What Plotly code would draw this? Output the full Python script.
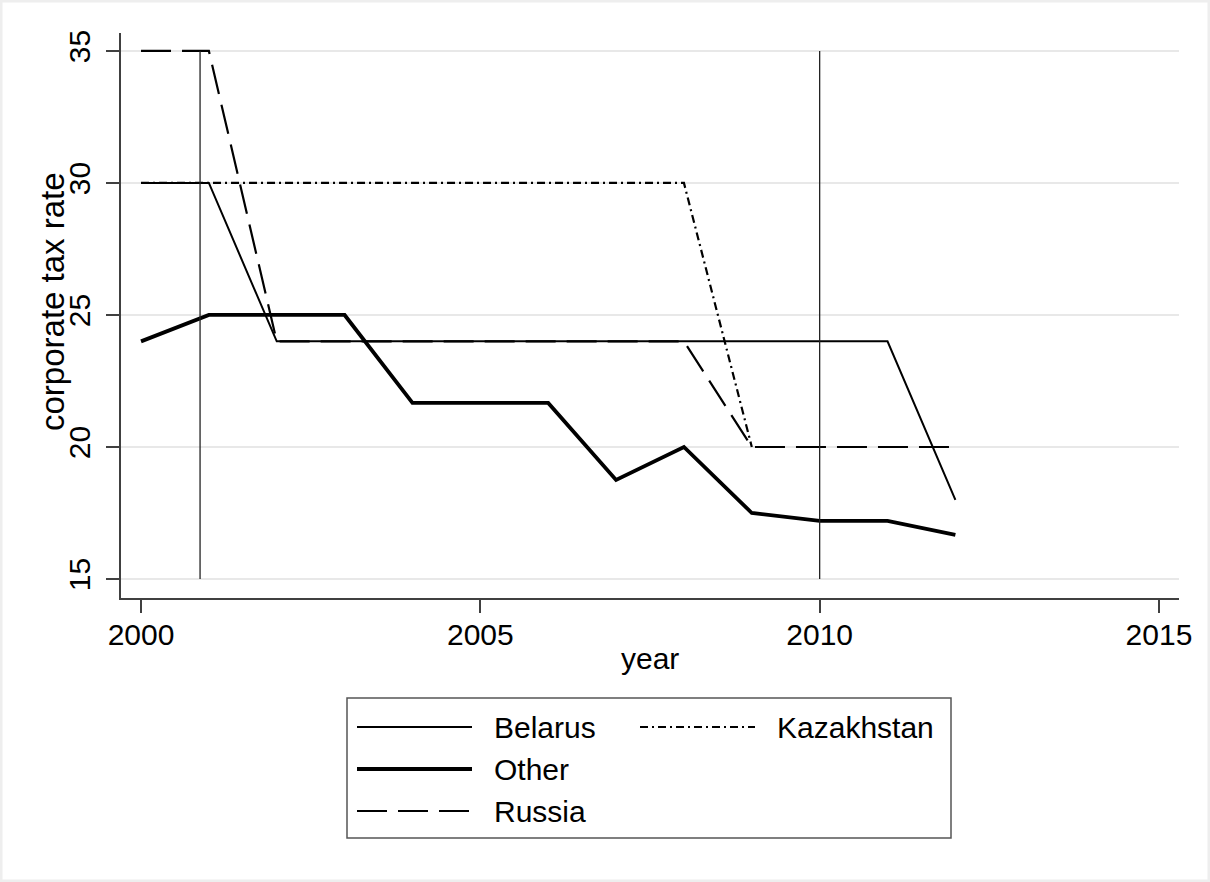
import plotly.graph_objects as go

# Corporate tax rates by year
years = list(range(2000, 2013))
belarus = [30, 30, 24, 24, 24, 24, 24, 24, 24, 24, 24, 24, 18]
other = [24, 25, 25, 25, 21.67, 21.67, 21.67, 18.75, 20, 17.5, 17.2, 17.2, 16.67]
russia = [35, 35, 24, 24, 24, 24, 24, 24, 24, 20, 20, 20, 20]
kazakhstan_years = list(range(2000, 2010))
kazakhstan = [30, 30, 30, 30, 30, 30, 30, 30, 30, 20]

x_ticks = [2000, 2005, 2010, 2015]
y_ticks = [15, 20, 25, 30, 35]
reform_years = [2000.87, 2010]

FONT = "Liberation Sans, Arial, sans-serif"
FS = 30
W, H = 1210, 882
ML, MR, MT, MB = 121, 31, 33, 284
PW, PH = W - ML - MR, H - MT - MB


def px(x):
    return (x - ML) / PW


def py(y):
    return (H - MB - y) / PH


series = [
    ("Belarus", years, belarus, dict(width=2, dash="solid")),
    ("Other", years, other, dict(width=3.8, dash="solid")),
    ("Russia", years, russia, dict(width=2.2, dash="30px,11px")),
    ("Kazakhstan", kazakhstan_years, kazakhstan, dict(width=2.2, dash="8px,4px,2px,4px")),
]

fig = go.Figure()
for name, xs, vals, style in series:
    fig.add_trace(go.Scatter(
        x=xs, y=vals, mode="lines", name=name,
        line=dict(color="black", **style), showlegend=False,
    ))

shapes = []
# vertical reference lines spanning the labelled range
for yr in reform_years:
    shapes.append(dict(type="line", xref="x", yref="y", x0=yr, x1=yr,
                       y0=min(y_ticks), y1=max(y_ticks),
                       line=dict(color="#222222", width=1.3), layer="above"))

# legend box
lx0, lx1, ly0, ly1 = 347, 951, 698, 838
shapes.append(dict(type="rect", xref="paper", yref="paper",
                   x0=px(lx0), x1=px(lx1), y0=py(ly1), y1=py(ly0),
                   line=dict(color="#555555", width=1.5), fillcolor="white"))

annotations = []
legend_slots = {
    "Belarus": (357, 727),
    "Other": (357, 769),
    "Russia": (357, 811),
    "Kazakhstan": (640, 727),
}
for name, xs, vals, style in series:
    sx, sy = legend_slots[name]
    shapes.append(dict(type="line", xref="paper", yref="paper",
                       x0=px(sx), x1=px(sx + 115), y0=py(sy), y1=py(sy),
                       line=dict(color="black", **style)))
    annotations.append(dict(text=name, xref="paper", yref="paper",
                            x=px(sx + 135), y=py(sy), xanchor="left", yanchor="middle",
                            showarrow=False, font=dict(family=FONT, size=FS, color="black")))

# axis titles
annotations.append(dict(text="year", xref="paper", yref="paper",
                        x=0.5, y=py(677), xanchor="center", yanchor="bottom",
                        showarrow=False, font=dict(family=FONT, size=FS, color="black")))
annotations.append(dict(text="corporate tax rate", xref="paper", yref="paper",
                        x=px(52), y=py(302), xanchor="center", yanchor="middle",
                        textangle=-90, showarrow=False,
                        font=dict(family=FONT, size=33, color="black")))

# thin light frame around the page
shapes.append(dict(type="rect", xref="paper", yref="paper",
                   x0=px(0), x1=px(W), y0=py(H), y1=py(0),
                   line=dict(color="#eeeeee", width=5)))

fig.update_layout(
    width=W, height=H,
    margin=dict(l=ML, r=MR, t=MT, b=MB),
    paper_bgcolor="white", plot_bgcolor="white",
    font=dict(family=FONT, size=FS, color="black"),
    shapes=shapes, annotations=annotations,
    xaxis=dict(
        range=[1999.705, 2015.295], tickvals=x_ticks,
        showgrid=False, zeroline=False,
        showline=True, linecolor="#404040", linewidth=1.5,
        ticks="outside", ticklen=13, tickcolor="#404040", tickwidth=1.5,
        ticklabelstandoff=-4,
        tickfont=dict(family=FONT, size=FS, color="black"),
    ),
    yaxis=dict(
        range=[14.28, 35.68], tickvals=y_ticks,
        showgrid=True, gridcolor="#e8e8e8", gridwidth=2, zeroline=False,
        showline=True, linecolor="#404040", linewidth=1.5,
        ticks="outside", ticklen=13, tickcolor="#404040", tickwidth=1.5,
        tickangle=-90, ticklabelstandoff=4,
        tickfont=dict(family=FONT, size=FS, color="black"),
    ),
)

fig.write_html("out.html")
